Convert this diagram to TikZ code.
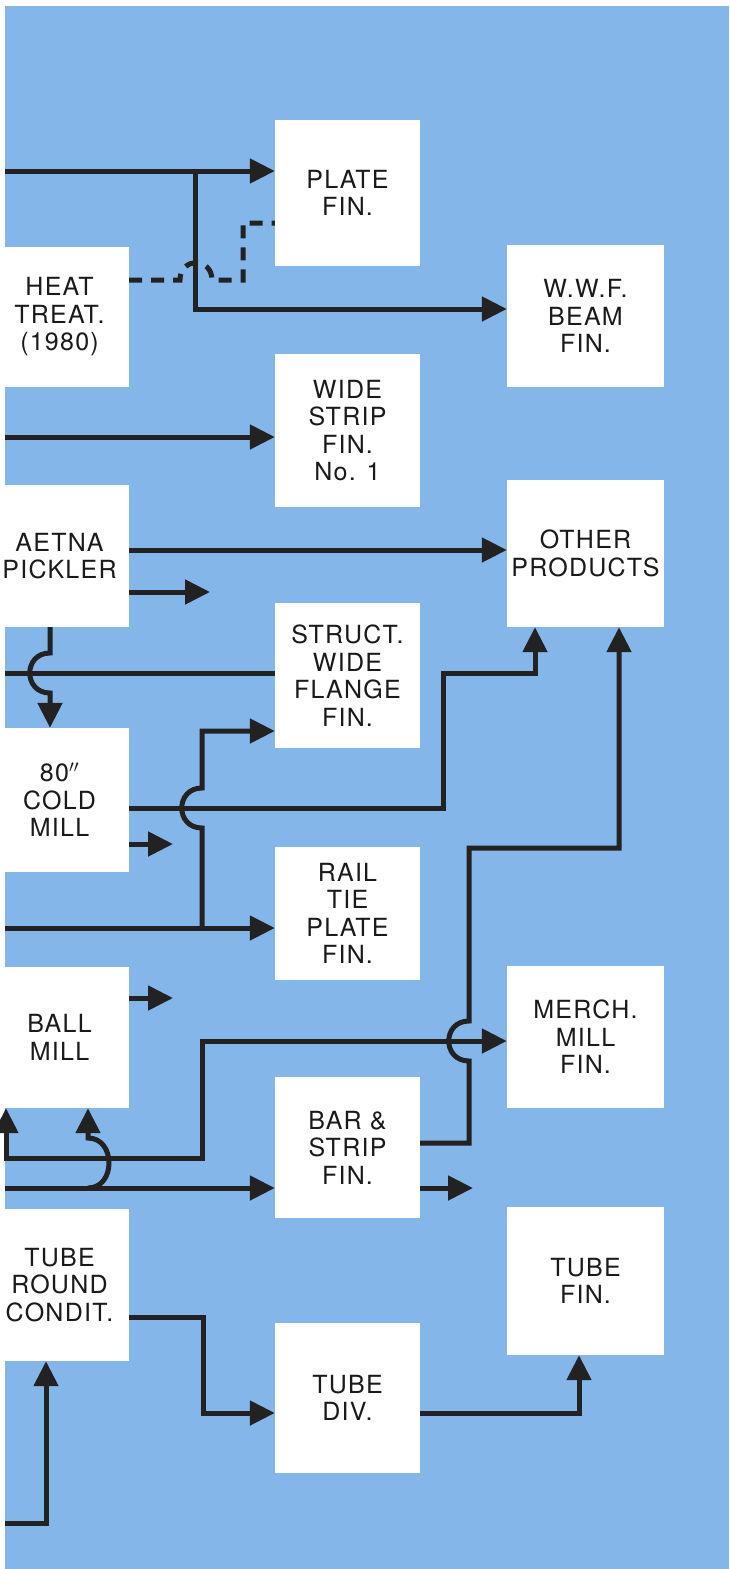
\documentclass[tikz,border=0pt]{standalone}
\usepackage{fontspec}
\setmainfont{TeX Gyre Heros}[LetterSpace=5]
\usetikzlibrary{arrows.meta}
\definecolor{bg}{RGB}{132,182,234}
\definecolor{ink}{RGB}{34,34,34}
\definecolor{txt}{RGB}{26,26,26}
\tikzset{
 box/.style={fill=white, draw=none, inner sep=0pt, align=center, text=txt, font=\fontsize{25}{27.5}\selectfont},
 lbox/.style={box, minimum width=139pt},
 mbox/.style={box, minimum width=145pt},
 rbox/.style={box, minimum width=157pt},
 conn/.style={draw=ink, line width=5pt},
 arr/.style={conn, -{Triangle[length=25pt,width=24pt]}},
 darr/.style={conn, {Triangle[length=25pt,width=24pt]}-{Triangle[length=25pt,width=24pt]}},
 dconn/.style={conn, dash pattern=on 13pt off 9pt},
}
\begin{document}
\begin{tikzpicture}[x=1pt,y=-1pt]
\useasboundingbox (0,0) rectangle (729,1569);
\fill[white] (0,0) rectangle (729,1569);
\fill[bg] (5,6) rectangle (729,1569);

% left column
\node[lbox, minimum height=140pt] (heat) at (59.5,317) {HEAT\\TREAT.\\(1980)};
\node[lbox, minimum height=142pt] (aetna) at (59.5,556) {AETNA\\PICKLER};
\node[lbox, minimum height=144pt] (cold) at (59.5,800) {80$''$\\COLD\\MILL};
\node[lbox, minimum height=141pt] (ball) at (59.5,1037.5) {BALL\\MILL};
\node[lbox, minimum height=152pt] (tround) at (59.5,1285) {TUBE\\ROUND\\CONDIT.};
% middle column
\node[mbox, minimum height=146pt] (plate) at (347.5,193) {PLATE\\FIN.};
\node[mbox, minimum height=153pt] (wide) at (347.5,430.5) {WIDE\\STRIP\\FIN.\\No. 1};
\node[mbox, minimum height=145pt] (struct) at (347.5,675.5) {STRUCT.\\WIDE\\FLANGE\\FIN.};
\node[mbox, minimum height=133pt] (rail) at (347.5,913.5) {RAIL\\TIE\\PLATE\\FIN.};
\node[mbox, minimum height=141pt] (bar) at (347.5,1147.5) {BAR \&\\STRIP\\FIN.};
\node[mbox, minimum height=150pt] (tdiv) at (347.5,1398) {TUBE\\DIV.};
% right column
\node[rbox, minimum height=142pt] (wwf) at (585.5,316) {W.W.F.\\BEAM\\FIN.};
\node[rbox, minimum height=147pt] (other) at (585.5,553.5) {OTHER\\PRODUCTS};
\node[rbox, minimum height=142pt] (merch) at (585.5,1037) {MERCH.\\MILL\\FIN.};
\node[rbox, minimum height=148pt] (tfin) at (585.5,1281) {TUBE\\FIN.};

% connectors
\coordinate (s1) at (5,171);
\coordinate (j1) at (195,171);
\draw[arr] (s1) -- (s1 -| plate.west);
\draw[arr] (j1) -- (195,309) -- (wwf.west |- 0,309);
\draw[dconn] (heat.east |- 0,280) -- (180,280) .. controls (180,257) and (212,257) .. (212,280) -- (243,280) -- (243,223) -- (plate.west |- 0,223);

\draw[arr] (5,437) -- (wide.west |- 0,437);
\draw[arr] (aetna.east |- 0,550) -- (other.west |- 0,550);
\draw[arr] (aetna.east |- 0,592) -- (210,592);
\draw[arr] (aetna.south -| 50,0) -- (50,653) .. controls (23,653) and (23,693) .. (50,693) -- (cold.north -| 50,0);
\draw[conn] (5,673) -- (struct.west |- 0,673);

\draw[arr] (cold.east |- 0,808) -- (443,808) -- (443,673) -- (535,673) -- (other.south -| 535,0);
\draw[arr] (cold.east |- 0,844) -- (173,844);

\draw[arr] (5,928) -- (rail.west |- 0,928);
\draw[arr] (202,928) -- (202,828) .. controls (175,828) and (175,788) .. (202,788) -- (202,731) -- (struct.west |- 0,731);

\draw[arr] (ball.east |- 0,998) -- (173,998);
\draw[darr] (ball.south -| 6,0) -- (6,1158) -- (202,1158) -- (202,1041) -- (merch.west |- 0,1041);

\draw[arr] (5,1188) -- (bar.west |- 0,1188);
\draw[arr] (88,1188) .. controls (116,1188) and (116,1138) .. (88,1138) -- (ball.south -| 88,0);

\draw[arr] (bar.east |- 0,1143) -- (469,1143) -- (469,1061) .. controls (442,1061) and (442,1021) .. (469,1021) -- (469,848) -- (619,848) -- (other.south -| 619,0);
\draw[arr] (bar.east |- 0,1188) -- (473,1188);

\draw[arr] (tround.east |- 0,1317) -- (203,1317) -- (203,1413) -- (tdiv.west |- 0,1413);
\draw[arr] (tdiv.east |- 0,1413) -- (579,1413) -- (tfin.south -| 579,0);
\draw[arr] (5,1523) -- (46,1523) -- (tround.south -| 46,0);
\end{tikzpicture}
\end{document}
